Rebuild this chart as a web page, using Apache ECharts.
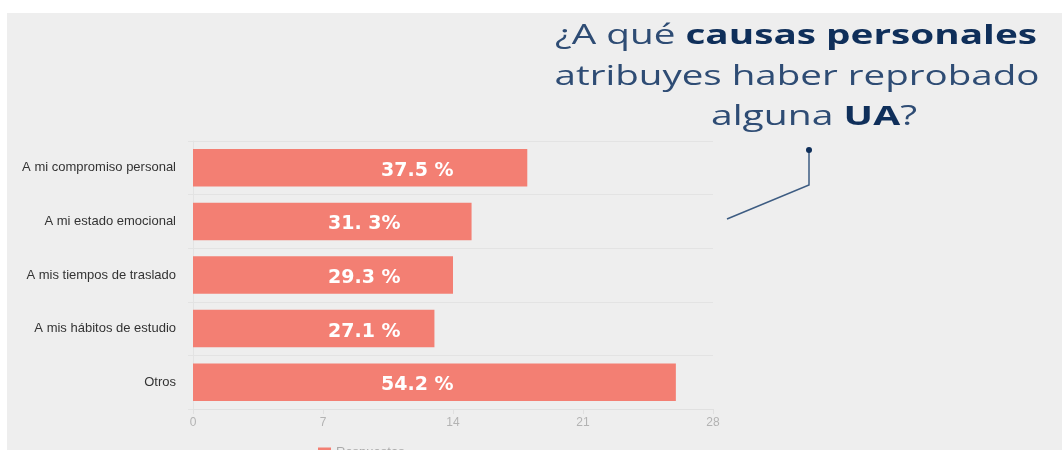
<!DOCTYPE html>
<html>
<head>
<meta charset="utf-8">
<script src="https://cdn.jsdelivr.net/npm/echarts@6/dist/echarts.min.js"></script>
<style>
  html, body { margin: 0; padding: 0; background: #fff; }
  #bg { position: absolute; left: 7px; top: 13px; right: 0; bottom: 0; background: #eeeeee; }
  #main { position: absolute; left: 0; top: 0; width: 1062px; height: 450px; }
</style>
</head>
<body>
<div id="bg"></div>
<div id="main"></div>
<script>
  const categories = ['A mi compromiso personal', 'A mi estado emocional', 'A mis tiempos de traslado', 'A mis hábitos de estudio', 'Otros'];
  const responses = [18, 15, 14, 13, 26];
  const pctLabels = ['37.5 %', '31. 3%', '29.3 %', '27.1 %', '54.2 %'];
  const seriesName = 'Respuestas';

  const titleLines = [
    [{ text: '¿A qué ' }, { text: 'causas personales', bold: true }],
    [{ text: 'atribuyes haber reprobado' }],
    [{ text: 'alguna ' }, { text: 'UA', bold: true }, { text: '?' }]
  ];

  const chart = echarts.init(document.getElementById('main'));

  // the title in the picture is very wide, so stretch each line to its width
  const TITLE_FONT = '"Open Sans", "Noto Sans", sans-serif';
  const TITLE_SIZE = 27;
  const measureCtx = document.createElement('canvas').getContext('2d');
  function lineWidth(parts) {
    return parts.reduce((w, p) => {
      measureCtx.font = (p.bold ? 'bold ' : '') + TITLE_SIZE + 'px ' + TITLE_FONT;
      return w + measureCtx.measureText(p.text).width;
    }, 0);
  }
  const lineBoxes = [
    { cx: 796, cy: 36, w: 482 },
    { cx: 797, cy: 77, w: 485 },
    { cx: 814, cy: 117, w: 206 }
  ];
  const titleGraphics = titleLines.map((parts, i) => ({
    type: 'text',
    x: lineBoxes[i].cx,
    y: lineBoxes[i].cy,
    scaleX: lineBoxes[i].w / lineWidth(parts),
    style: {
      text: parts.map(p => '{' + (p.bold ? 'b' : 'r') + '|' + p.text + '}').join(''),
      rich: {
        r: { fontFamily: TITLE_FONT, fontSize: TITLE_SIZE, fill: '#2e4c74' },
        b: { fontFamily: TITLE_FONT, fontSize: TITLE_SIZE, fontWeight: 'bold', fill: '#0f2f5a' }
      },
      align: 'center',
      verticalAlign: 'middle',
      textAlign: 'center',
      textVerticalAlign: 'middle'
    }
  }));

  const option = {
    animation: false,
    grid: { left: 193, right: 349, top: 141, bottom: 41 },
    legend: {
      left: 313,
      top: 441,
      icon: 'rect',
      itemWidth: 13,
      itemHeight: 10,
      textStyle: { color: '#aaaaaa', fontSize: 13, fontFamily: 'Liberation Sans, Arial, sans-serif' },
      data: [seriesName]
    },
    xAxis: {
      type: 'value',
      min: 0,
      max: 28,
      interval: 7,
      axisLine: { show: true, lineStyle: { color: '#e0e0e0' } },
      axisTick: { show: true, length: 5, lineStyle: { color: '#e0e0e0' } },
      axisLabel: { color: '#b3b3b3', fontSize: 12, fontFamily: 'Liberation Sans, Arial, sans-serif' },
      splitLine: { show: false }
    },
    yAxis: {
      type: 'category',
      inverse: true,
      data: categories,
      axisLine: { show: true, lineStyle: { color: '#e3e3e3' } },
      axisTick: { show: true, length: 5, lineStyle: { color: '#e3e3e3' } },
      axisLabel: { color: '#333333', fontSize: 13, margin: 17, fontFamily: 'Liberation Sans, Arial, sans-serif' },
      splitLine: { show: true, lineStyle: { color: '#e3e3e3' } }
    },
    series: [{
      name: seriesName,
      type: 'bar',
      barCategoryGap: '30%',
      itemStyle: { color: '#f37f73' },
      data: responses.map((v, i) => ({
        value: v,
        label: { distance: (i === 0 || i === 4) ? 188 : 135 }
      })),
      label: {
        show: true,
        position: 'insideLeft',
        offset: [0, 3],
        color: '#ffffff',
        fontSize: 19,
        fontWeight: 'bold',
        fontFamily: 'DejaVu Sans, sans-serif',
        formatter: p => pctLabels[p.dataIndex]
      }
    }],
    graphic: titleGraphics.concat([
      {
        type: 'polyline',
        shape: { points: [[809, 150], [809, 185], [727, 219]] },
        style: { stroke: '#3d5c82', lineWidth: 1.5, fill: null }
      },
      {
        type: 'circle',
        shape: { cx: 809, cy: 150, r: 3 },
        style: { fill: '#0f2f5a' }
      }
    ])
  };

  chart.setOption(option);
</script>
</body>
</html>
